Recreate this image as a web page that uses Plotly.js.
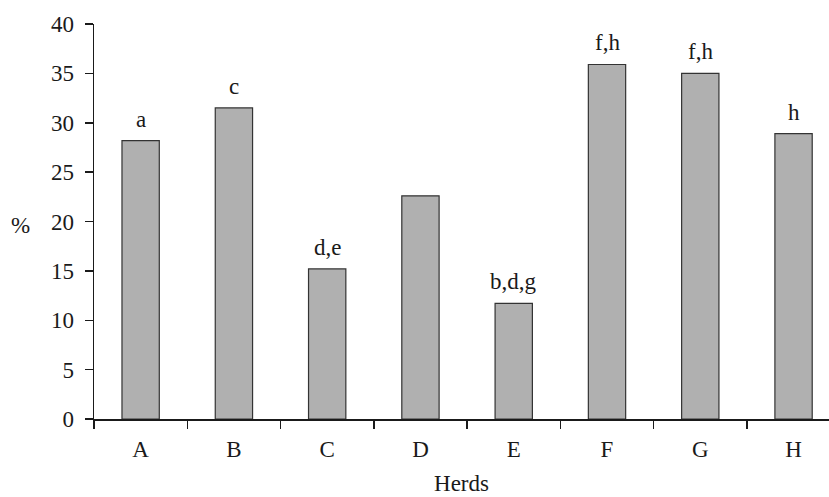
<!DOCTYPE html>
<html>
<head>
<meta charset="utf-8">
<script src="https://cdn.plot.ly/plotly-3.0.1.min.js"></script>
<style>html,body{margin:0;padding:0;background:#fff;}#chart{width:829px;height:497px;}</style>
</head>
<body>
<div id="chart"></div>
<script>
var herds = ["A", "B", "C", "D", "E", "F", "G", "H"];
var percent = [28.2, 31.5, 15.2, 22.6, 11.7, 35.9, 35.0, 28.9];
var letters = ["a", "c", "d,e", "", "b,d,g", "f,h", "f,h", "h"];
var yTicks = [0, 5, 10, 15, 20, 25, 30, 35, 40];

var font = {family: "Liberation Serif", size: 23, color: "#1a1a1a"};

var trace = {
  type: "bar",
  x: herds,
  y: percent,
  width: 0.4,
  marker: {color: "#b0b0b0", line: {color: "#333333", width: 1.2}},
  hoverinfo: "none"
};

var annotations = herds.map(function (h, i) {
  return {
    x: h, y: percent[i], text: letters[i], showarrow: false,
    xanchor: "center", yanchor: "bottom", yshift: 7,
    font: font
  };
});
annotations.push({
  xref: "paper", yref: "paper", x: -0.1, y: 0.49, text: "%",
  showarrow: false, xanchor: "center", yanchor: "middle", font: font
});

var layout = {
  width: 829, height: 497,
  margin: {l: 94, r: 0, t: 24, b: 78},
  paper_bgcolor: "#fff", plot_bgcolor: "#fff",
  showlegend: false,
  font: font,
  bargap: 0.6,
  xaxis: {
    type: "category",
    range: [-0.5, 7.38],
    showline: true, linecolor: "#1a1a1a", linewidth: 1.5,
    ticks: "outside", tickson: "boundaries", ticklen: 8, tickwidth: 1.5, tickcolor: "#1a1a1a",
    ticklabelstandoff: 9,
    showgrid: false, zeroline: false,
    tickfont: font,
    title: {text: "Herds", font: font, standoff: 14}
  },
  yaxis: {
    range: [0, 40],
    tickvals: yTicks,
    showline: true, linecolor: "#1a1a1a", linewidth: 1.5,
    ticks: "outside", ticklen: 8, tickwidth: 1.5, tickcolor: "#1a1a1a",
    ticklabelstandoff: 6,
    showgrid: false, zeroline: false,
    tickfont: font
  },
  annotations: annotations
};

Plotly.newPlot("chart", [trace], layout, {staticPlot: true, displayModeBar: false});
</script>
</body>
</html>
